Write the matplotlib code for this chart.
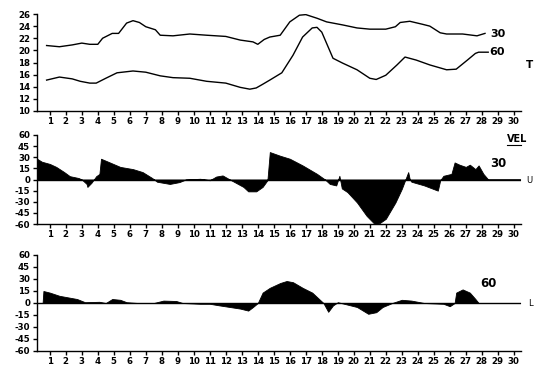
import matplotlib
matplotlib.use("Agg")
import matplotlib.pyplot as plt

# ---------------- data ----------------
days = list(range(1, 31))

t30_day = [0.8, 1.6, 2.4, 3.0, 3.5, 4.0, 4.3, 4.9, 5.3, 5.8, 6.2, 6.6, 7.0, 7.6, 7.9, 8.7,
           9.75, 10.8, 12.0, 12.9, 13.7, 14.0, 14.4, 14.75, 15.4, 16.0, 16.6, 17.0, 17.7,
           18.3, 19.3, 20.2, 21.0, 22.0, 22.6, 22.9, 23.5, 24.3, 24.75, 25.4, 25.8, 26.8,
           27.7, 28.2]
t30_val = [20.8, 20.6, 20.9, 21.2, 21.0, 21.0, 22.0, 22.8, 22.8, 24.5, 24.9, 24.6, 23.9, 23.4,
           22.5, 22.4, 22.7, 22.5, 22.3, 21.7, 21.4, 21.0, 21.8, 22.2, 22.5, 24.7, 25.8, 25.9,
           25.3, 24.7, 24.2, 23.7, 23.5, 23.5, 23.9, 24.6, 24.8, 24.3, 24.0, 22.9, 22.7, 22.7,
           22.4, 22.8]

t60_day = [0.8, 1.6, 2.4, 2.9, 3.5, 3.9, 4.5, 5.2, 6.2, 7.0, 7.9, 8.7, 9.75, 10.8, 12.0, 12.9,
           13.5, 13.9, 14.3, 14.75, 15.5, 16.2, 16.8, 17.4, 17.7, 18.0, 18.7, 19.3, 20.2, 21.0,
           21.4, 22.0, 22.7, 23.2, 23.9, 24.75, 25.8, 26.4, 27.1, 27.6, 27.8, 28.4]
t60_val = [15.1, 15.6, 15.3, 14.9, 14.6, 14.6, 15.4, 16.3, 16.6, 16.4, 15.8, 15.5, 15.4, 14.9,
           14.6, 13.9, 13.6, 13.8, 14.4, 15.1, 16.3, 19.2, 22.2, 23.7, 23.8, 23.0, 18.7, 17.9,
           16.8, 15.4, 15.2, 15.9, 17.6, 18.9, 18.4, 17.6, 16.8, 16.9, 18.4, 19.5, 19.7, 19.7]

u30_day = [0.2, 0.5, 1.0, 1.4, 1.9, 2.25, 2.8, 3.0, 3.3, 3.35, 3.6, 3.9, 4.1, 4.2, 4.75, 5.4,
           6.2, 6.8, 7.4, 7.7, 8.5, 9.1, 9.5, 10.4, 11.0, 11.4, 11.8, 12.25, 13.1, 13.4, 13.9,
           14.3, 14.6, 14.75, 15.4, 16.0, 16.8, 17.7, 18.2, 18.5, 18.9, 19.1, 19.25, 19.6,
           20.2, 20.8, 21.3, 21.6, 22.0, 22.6, 23.0, 23.4, 23.5, 23.6, 24.4, 25.25, 25.4,
           25.6, 26.1, 26.3, 26.6, 27.0, 27.25, 27.6, 27.8, 28.1, 28.4, 30.4]
u30_val = [28, 24, 21, 17, 10, 4.5, 2, 0, -6, -10, -4.5, 4.5, 7.5, 28, 23, 17,
           14, 10, 2, -3, -6, -3.5, 0, 1, -1, 4, 5.5, 0, -10, -16, -16,
           -10, -1, 37, 32, 28, 19, 7.6, 0, -6, -8, 5, -12, -17,
           -31, -49, -60, -59, -53, -31, -12.6, 10, 0, -3, -8, -15, -1,
           5, 7.6, 23, 20, 17, 20, 14, 19, 7.6, 0, 0]

l60_day = [0.2, 0.55, 0.6, 1.0, 1.6, 2.7, 3.2, 4.1, 4.5, 4.9, 5.4, 5.8, 6.5, 7.5, 8.1, 8.9,
           9.3, 10.4, 11.0, 11.6, 12.9, 13.4, 13.7, 14.0, 14.3, 14.75, 15.4, 15.8, 16.2, 16.8,
           17.4, 18.1, 18.4, 18.7, 19.0, 19.4, 20.2, 20.9, 21.4, 21.8, 22.4, 23.0, 23.6, 24.4,
           25.6, 26.0, 26.3, 26.4, 26.8, 27.25, 27.6, 27.8, 30.4]
l60_val = [0, 0, 15, 13, 9, 5, 1, 1.5, 0, 5, 4, 1, 0, 0, 3, 2.5,
           0, -1, -1, -3, -7, -9.5, -5, 0, 13, 19, 25, 27.5, 26, 19,
           13, 0, -11, -3, 1, -1, -5, -13.5, -11.5, -5, 0, 4, 3, 0,
           -1, -4, 0, 13, 17, 13, 5, 0, 0]

t_ticks = [10, 12, 14, 16, 18, 20, 22, 24, 26]
v_ticks = [60, 45, 30, 15, 0, -15, -30, -45, -60]

# ---------------- figure ----------------
W, H = 539, 370
fig = plt.figure(figsize=(W / 100, H / 100), dpi=100)
plt.rcParams['font.family'] = ['DejaVu Sans']

def box(top_px, bot_px, left_px=37, right_px=521):
    return [left_px / W, 1 - bot_px / H, (right_px - left_px) / W, (bot_px - top_px) / H]

ax1 = fig.add_axes(box(14, 111))
ax2 = fig.add_axes(box(135, 224))
ax3 = fig.add_axes(box(255, 351))

XL = (0.2, 30.45)
tickfont = dict(fontsize=6.2, fontweight='bold')

for ax in (ax1, ax2, ax3):
    ax.set_xlim(*XL)
    for s in ('top', 'right'):
        ax.spines[s].set_visible(False)
    ax.spines['left'].set_linewidth(1.0)
    ax.spines['bottom'].set_linewidth(1.0)
    ax.set_xticks(days)
    ax.set_xticklabels([str(d) for d in days], **tickfont)
    ax.tick_params(axis='both', direction='out', length=3, width=1.0, pad=2)
    ax.tick_params(axis='x', pad=1.5)

# top panel: temperature
ax1.set_ylim(10, 26)
ax1.set_yticks(t_ticks)
ax1.set_yticklabels([str(t) for t in t_ticks], **tickfont)
ax1.plot(t30_day, t30_val, color='black', lw=1.0)
ax1.plot(t60_day, t60_val, color='black', lw=1.0)
ax1.text(28.55, 22.7, '30', fontsize=8, fontweight='bold', va='center', ha='left')
ax1.text(28.45, 19.8, '60', fontsize=8, fontweight='bold', va='center', ha='left')
ax1.text(30.75, 17.6, 'T', fontsize=7.5, fontweight='bold', va='center', ha='left', clip_on=False)

# velocity panels
for ax, dd, vv in ((ax2, u30_day, u30_val), (ax3, l60_day, l60_val)):
    ax.set_ylim(-60, 60)
    ax.set_yticks(v_ticks)
    ax.set_yticklabels([str(v) for v in v_ticks], **tickfont)
    ax.fill_between(dd, 0, vv, color='black', lw=0.6, edgecolor='black')
    ax.axhline(0, color='black', lw=1.0)

ax2.text(29.6, 54, 'VEL', fontsize=7, fontweight='bold', va='center', ha='left',
         clip_on=False)
ax2.plot([29.6, 30.45], [47, 47], color='black', lw=0.8, clip_on=False)
ax2.text(28.5, 22, '30', fontsize=8.5, fontweight='bold', va='center', ha='left')
ax2.text(30.8, -2, 'U', fontsize=6, va='center', ha='left', clip_on=False)

ax3.text(27.9, 24, '60', fontsize=8.5, fontweight='bold', va='center', ha='left')
ax3.text(30.9, 0, 'L', fontsize=6, va='center', ha='left', clip_on=False)

fig.savefig('out.png', dpi=100)
